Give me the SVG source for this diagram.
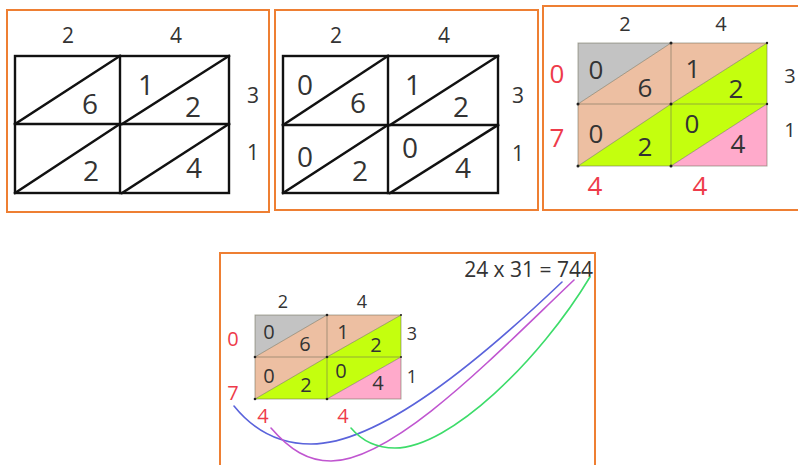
<svg xmlns="http://www.w3.org/2000/svg" width="798" height="465" viewBox="0 0 798 465">
<style>
.frame{fill:none;stroke:#EE7F33;stroke-width:2}
.g{fill:none;stroke:#111;stroke-width:2.4;stroke-linecap:square}
.t{font-family:"Open Sans","DejaVu Sans",sans-serif;fill:#333;text-anchor:middle}
.r{fill:#EE3B4A}
.thin{fill:none;stroke:#6b6b55;stroke-opacity:0.55;stroke-width:1}
.grey{fill:#C3C3C3}.sal{fill:#EDBFA2}.lime{fill:#C4FF0E}.pink{fill:#FFAACB}
.dot{fill:#222}
.c{fill:none;stroke-width:1.6;stroke-linecap:round}
</style>
<rect width="798" height="465" fill="#fff"/>

<g id="panel1">
<rect class="frame" x="7" y="10" width="262" height="202"/>
<g class="g">
<rect x="15" y="56" width="214" height="137"/>
<line x1="120" y1="56" x2="120" y2="193"/>
<line x1="15" y1="124" x2="229" y2="124"/>
<line x1="15" y1="124" x2="120" y2="56"/>
<line x1="122" y1="124" x2="229" y2="56"/>
<line x1="15" y1="193" x2="120" y2="124"/>
<line x1="122" y1="193" x2="229" y2="124"/>
</g>
<g class="t" font-size="21">
<text x="68" y="43">2</text><text x="176" y="43">4</text>
<text x="253" y="103">3</text><text x="253" y="160">1</text>
</g>
<g class="t" font-size="28">
<text x="90" y="114">6</text><text x="146" y="95">1</text><text x="193" y="117">2</text>
<text x="91" y="181">2</text><text x="194" y="178">4</text>
</g>
</g>

<g id="panel2">
<rect class="frame" x="275" y="10" width="263" height="200"/>
<g class="g">
<rect x="283" y="56" width="215" height="137"/>
<line x1="388" y1="56" x2="388" y2="193"/>
<line x1="283" y1="125" x2="498" y2="125"/>
<line x1="283" y1="125" x2="388" y2="56"/>
<line x1="390" y1="125" x2="498" y2="56"/>
<line x1="283" y1="193" x2="388" y2="125"/>
<line x1="390" y1="193" x2="498" y2="125"/>
</g>
<g class="t" font-size="21">
<text x="336" y="43">2</text><text x="444" y="43">4</text>
<text x="518" y="103">3</text><text x="518" y="161">1</text>
</g>
<g class="t" font-size="28">
<text x="305" y="95">0</text><text x="358" y="113">6</text><text x="413" y="95">1</text><text x="461" y="117">2</text>
<text x="305" y="167">0</text><text x="360" y="181">2</text><text x="410" y="158">0</text><text x="463" y="178">4</text>
</g>
</g>

<g id="panel3">
<rect class="frame" x="543" y="6" width="262" height="204"/>
<polygon class="grey" points="578,43 671,43 578,104"/>
<polygon class="sal" points="671,43 578,104 671,104"/>
<polygon class="sal" points="671,43 767,43 671,104"/>
<polygon class="lime" points="767,43 767,104 671,104"/>
<polygon class="sal" points="578,104 671,104 578,166"/>
<polygon class="lime" points="671,104 671,166 578,166"/>
<polygon class="lime" points="671,104 767,104 671,166"/>
<polygon class="pink" points="767,104 767,166 671,166"/>
<g class="thin">
<rect x="578" y="43" width="189" height="123"/>
<line x1="671" y1="43" x2="671" y2="166"/>
<line x1="578" y1="104" x2="767" y2="104"/>
<line x1="578" y1="104" x2="671" y2="43"/>
<line x1="671" y1="104" x2="767" y2="43"/>
<line x1="578" y1="166" x2="671" y2="104"/>
<line x1="671" y1="166" x2="767" y2="104"/>
</g>
<g class="dot">
<circle cx="671" cy="43" r="1.5"/><circle cx="578" cy="104" r="1.5"/><circle cx="671" cy="104" r="1.5"/>
<circle cx="578" cy="166" r="1.5"/><circle cx="671" cy="166" r="1.5"/><circle cx="767" cy="43" r="1.2"/><circle cx="767" cy="104" r="1.2"/>
</g>
<g class="t" font-size="20">
<text x="625" y="31">2</text><text x="721" y="31">4</text>
<text x="790" y="83">3</text><text x="790" y="137">1</text>
</g>
<g class="t" font-size="26">
<text class="r" x="557" y="83">0</text><text class="r" x="557" y="147">7</text>
<text class="r" x="595" y="195">4</text><text class="r" x="700" y="195">4</text>
<text x="596" y="79">0</text><text x="645" y="97">6</text><text x="693" y="78">1</text><text x="736" y="98">2</text>
<text x="596" y="143">0</text><text x="645" y="156">2</text><text x="692" y="133">0</text><text x="738" y="153">4</text>
</g>
</g>

<g id="panel4">
<rect class="frame" x="220" y="253" width="375" height="220"/>
<polygon class="grey" points="255,315 327,315 255,357"/>
<polygon class="sal" points="327,315 255,357 327,357"/>
<polygon class="sal" points="327,315 401,315 327,357"/>
<polygon class="lime" points="401,315 401,357 327,357"/>
<polygon class="sal" points="255,357 327,357 255,399"/>
<polygon class="lime" points="327,357 327,399 255,399"/>
<polygon class="lime" points="327,357 401,357 327,399"/>
<polygon class="pink" points="401,357 401,399 327,399"/>
<g class="thin">
<rect x="255" y="315" width="146" height="84"/>
<line x1="327" y1="315" x2="327" y2="399"/>
<line x1="255" y1="357" x2="401" y2="357"/>
<line x1="255" y1="357" x2="327" y2="315"/>
<line x1="327" y1="357" x2="401" y2="315"/>
<line x1="255" y1="399" x2="327" y2="357"/>
<line x1="327" y1="399" x2="401" y2="357"/>
</g>
<g class="dot">
<circle cx="327" cy="315" r="1.3"/><circle cx="255" cy="357" r="1.3"/><circle cx="327" cy="357" r="1.3"/>
<circle cx="255" cy="399" r="1.3"/><circle cx="327" cy="399" r="1.3"/><circle cx="401" cy="315" r="1"/><circle cx="401" cy="357" r="1"/>
</g>
<g class="t" font-size="18">
<text x="283" y="308">2</text><text x="362" y="308">4</text>
<text x="412" y="340">3</text><text x="412" y="383">1</text>
</g>
<g class="t" font-size="20">
<text class="r" x="233" y="346">0</text><text class="r" x="233" y="400">7</text>
<text class="r" x="263" y="423">4</text><text class="r" x="343" y="423">4</text>
<text x="269" y="339">0</text><text x="305" y="351">6</text><text x="343" y="339">1</text><text x="376" y="352">2</text>
<text x="269" y="383">0</text><text x="306" y="392">2</text><text x="341" y="378">0</text><text x="378" y="390">4</text>
</g>
<text class="t" font-size="21" x="593" y="277" style="text-anchor:end">24 x 31 = 744</text>
</g>

<g id="connectors">
<path class="c" stroke="#5A63DB" d="M234,406 C255,432 280,444 311,444 C380,444 480,360 562,282"/>
<path class="c" stroke="#C056D0" d="M271,428 C290,450 308,461 331,461 C395,460 495,355 574,280"/>
<path class="c" stroke="#3DDC6A" d="M351,428 C362,441 376,448 395,448 C450,448 540,360 590,277"/>
</g>
</svg>
